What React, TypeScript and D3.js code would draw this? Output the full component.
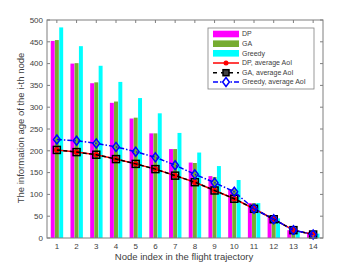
import React from "react";
import * as d3 from "d3";

// node index on the flight trajectory
const nodes = [1, 2, 3, 4, 5, 6, 7, 8, 9, 10, 11, 12, 13, 14];

// information age of the i-th node (bars)
const dpAge = [452, 400, 355, 310, 274, 240, 204, 173, 142, 112, 80, 49, 18, 13];
const gaAge = [454, 401, 357, 313, 276, 240, 204, 172, 140, 112, 80, 48, 16, 12];
const greedyAge = [483, 440, 395, 358, 321, 286, 241, 196, 165, 133, 80, 45, 14, 10];

// average AoI (lines)
const dpAvg = [202, 197, 191, 181, 170, 158, 143, 128, 109, 90, 67, 43, 18, 8];
const gaAvg = [202, 197, 191, 181, 170, 158, 143, 128, 109, 90, 67, 43, 18, 8];
const greedyAvg = [226, 223, 217, 209, 198, 185, 167, 146, 127, 106, 67, 43, 18, 8];

const yTicks = [0, 50, 100, 150, 200, 250, 300, 350, 400, 450, 500];

const W = 357;
const H = 268;
const font = "'Liberation Sans', Arial, sans-serif";
const axisColor = "#7f7f7f";
const textColor = "#404040";

export default function App() {
  const left = 47, right = 323, top = 20, bottom = 238;
  const x = d3.scaleLinear().domain([0.5, 14.5]).range([left, right]);
  const y = d3.scaleLinear().domain([0, 500]).range([bottom, top]);
  const bw = x(0.2) - x(0);

  const bars = [
    { vals: dpAge, color: "#ff00ff", off: -0.21 },
    { vals: gaAge, color: "#77ac30", off: 0 },
    { vals: greedyAge, color: "#00ffff", off: 0.22 },
  ];

  const line = d3
    .line<number>()
    .x((d, i) => x(nodes[i]))
    .y((d) => y(d));

  const diamond = (cx: number, cy: number, r: number) =>
    `M${cx},${cy - r}L${cx + r * 0.75},${cy}L${cx},${cy + r}L${cx - r * 0.75},${cy}Z`;

  // legend
  const lgX = 208, lgY = 28, lgW = 106, lgH = 61;
  const rowY = [34, 43.7, 53.3, 63, 72.7, 82];
  const swX0 = 213, swX1 = 239, swC = 226, txX = 242;
  const labels = ["DP", "GA", "Greedy", "DP, average AoI", "GA, average AoI", "Greedy, average AoI"];

  return (
    <svg width={W} height={H} style={{ position: "absolute", left: 0, top: 0, background: "#fff" }}>
      <rect x={0} y={0} width={W} height={H} fill="#fff" />
      {/* bars */}
      {bars.map((b, k) =>
        b.vals.map((v, i) => (
          <rect
            key={`b${k}-${i}`}
            x={x(nodes[i] + b.off) - bw / 2}
            y={y(v)}
            width={bw}
            height={y(0) - y(v)}
            fill={b.color}
          />
        ))
      )}
      {/* DP average */}
      <path d={line(dpAvg) || ""} fill="none" stroke="#ff0000" strokeWidth={1.5} />
      {dpAvg.map((v, i) => (
        <circle key={`dp${i}`} cx={x(nodes[i])} cy={y(v)} r={2.5} fill="#ff0000" stroke="#ff0000" />
      ))}
      {/* GA average */}
      <path d={line(gaAvg) || ""} fill="none" stroke="#000" strokeWidth={1.5} strokeDasharray="4,2.5" />
      {gaAvg.map((v, i) => (
        <rect key={`ga${i}`} x={x(nodes[i]) - 3.5} y={y(v) - 3.5} width={7} height={7} fill="none" stroke="#000" strokeWidth={1.5} />
      ))}
      {/* Greedy average */}
      <path d={line(greedyAvg) || ""} fill="none" stroke="#0000ff" strokeWidth={1.5} strokeDasharray="5,2,1.5,2" />
      {greedyAvg.map((v, i) => (
        <path key={`gr${i}`} d={diamond(x(nodes[i]), y(v), 4.5)} fill="none" stroke="#0000ff" strokeWidth={1.5} />
      ))}

      {/* axes box */}
      <rect x={left} y={top} width={right - left} height={bottom - top} fill="none" stroke={axisColor} strokeWidth={1} />
      {yTicks.map((t) => (
        <g key={`yt${t}`}>
          <line x1={left} x2={left + 3} y1={y(t)} y2={y(t)} stroke={axisColor} />
          <line x1={right} x2={right - 3} y1={y(t)} y2={y(t)} stroke={axisColor} />
          <text x={left - 4} y={y(t)} dy="0.35em" textAnchor="end" fontSize={8} fontFamily={font} fill={textColor}>
            {t}
          </text>
        </g>
      ))}
      {nodes.map((n) => (
        <g key={`xt${n}`}>
          <line x1={x(n)} x2={x(n)} y1={bottom} y2={bottom - 3} stroke={axisColor} />
          <line x1={x(n)} x2={x(n)} y1={top} y2={top + 3} stroke={axisColor} />
          <text x={x(n)} y={bottom + 10.5} textAnchor="middle" fontSize={8} fontFamily={font} fill={textColor}>
            {n}
          </text>
        </g>
      ))}
      <text x={184} y={260} textAnchor="middle" fontSize={9.5} fontFamily={font} fill={textColor}>
        Node index in the flight trajectory
      </text>
      <text
        transform={`translate(24,128) rotate(-90)`}
        textAnchor="middle"
        fontSize={9.5}
        fontFamily={font}
        fill={textColor}
      >
        The information age of the i-th node
      </text>

      {/* legend */}
      <rect x={lgX} y={lgY} width={lgW} height={lgH} fill="#fff" stroke={axisColor} strokeWidth={0.8} />
      {bars.map((b, k) => (
        <rect key={`lb${k}`} x={swX0} y={rowY[k] - 3.3} width={swX1 - swX0} height={6.6} fill={b.color} />
      ))}
      <line x1={swX0} x2={swX1} y1={rowY[3]} y2={rowY[3]} stroke="#ff0000" strokeWidth={1.5} />
      <circle cx={swC} cy={rowY[3]} r={2.5} fill="#ff0000" />
      <line x1={swX0} x2={swX1} y1={rowY[4]} y2={rowY[4]} stroke="#000" strokeWidth={1.5} strokeDasharray="4,4" />
      <rect x={swC - 3} y={rowY[4] - 3} width={6} height={6} fill="#404040" stroke="#000" strokeWidth={1.5} />
      <line x1={swX0} x2={swX1} y1={rowY[5]} y2={rowY[5]} stroke="#0000ff" strokeWidth={1.5} strokeDasharray="5,2,1.5,2" />
      <path d={diamond(swC, rowY[5], 4.5)} fill="#fff" stroke="#0000ff" strokeWidth={1.5} />
      {labels.map((l, k) => (
        <text key={`lt${k}`} x={txX} y={rowY[k]} dy="0.35em" fontSize={7} fontFamily={font} fill={textColor}>
          {l}
        </text>
      ))}
    </svg>
  );
}
